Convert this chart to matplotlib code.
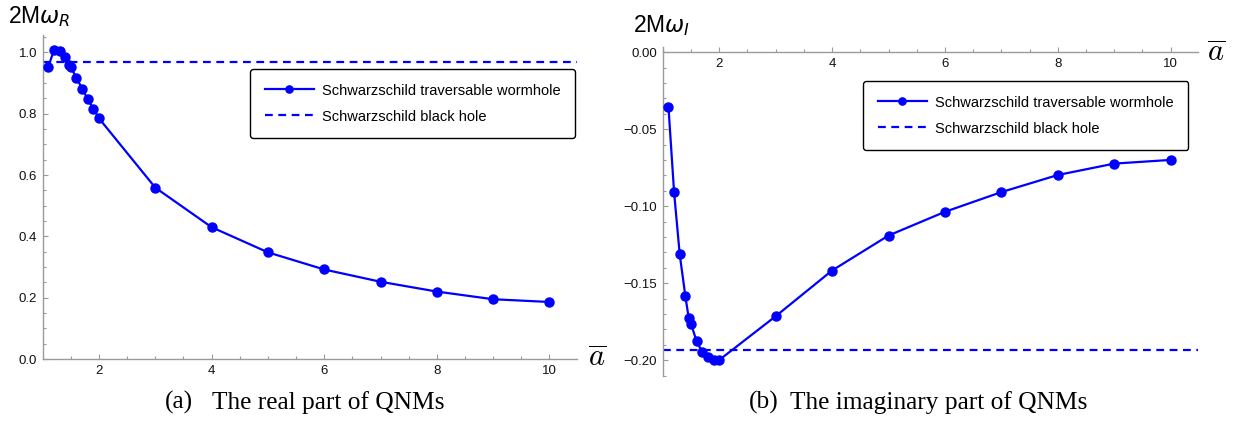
import matplotlib
matplotlib.use("Agg")
import matplotlib.pyplot as plt
from matplotlib.ticker import MultipleLocator

plt.rcParams['font.family'] = ['Liberation Sans', 'DejaVu Sans']

# wormhole parameter a-bar and the QNM frequencies
a_bar = [1.1, 1.2, 1.3, 1.4, 1.46, 1.5, 1.6, 1.7, 1.8, 1.9, 2, 3, 4, 5, 6, 7, 8, 9, 10]
omega_R = [0.953, 1.008, 1.005, 0.984, 0.959, 0.951, 0.917, 0.882, 0.848, 0.816,
           0.785, 0.559, 0.430, 0.348, 0.292, 0.252, 0.220, 0.195, 0.186]
omega_I = [-0.0353, -0.0909, -0.1313, -0.1584, -0.1727, -0.1764, -0.1877, -0.1947,
           -0.1981, -0.1995, -0.1998, -0.1714, -0.1417, -0.1190, -0.1036, -0.0908,
           -0.0797, -0.0723, -0.0699]
bh_R = 0.9673
bh_I = -0.1935

labels = ["Schwarzschild traversable wormhole", "Schwarzschild black hole"]
blue = (0, 0, 1)
axis_grey = "#9a9a9a"

W, H = 1236, 430
fig = plt.figure(figsize=(W / 100, H / 100), dpi=100)


def px_axes(x0, x1, ytop, ybot):
    return fig.add_axes([x0 / W, 1 - ybot / H, (x1 - x0) / W, (ybot - ytop) / H])


def style(ax, ymaj, ymin):
    for s in ["top", "right"]:
        ax.spines[s].set_visible(False)
    for s in ["left", "bottom"]:
        ax.spines[s].set_color(axis_grey)
        ax.spines[s].set_linewidth(1.0)
    ax.spines["bottom"].set_position(("data", 0))
    ax.xaxis.set_major_locator(MultipleLocator(2))
    ax.xaxis.set_minor_locator(MultipleLocator(0.5))
    ax.yaxis.set_major_locator(MultipleLocator(ymaj))
    ax.yaxis.set_minor_locator(MultipleLocator(ymin))
    ax.tick_params(which="both", direction="in", color=axis_grey, labelcolor="#111111",
                   labelsize=9.5, width=0.8)
    ax.tick_params(which="major", length=3.6, pad=4)
    ax.tick_params(which="minor", length=2.2)
    ax.set_xlim(1, 10.49)


def draw(ax, y, bh, loc):
    ax.plot(a_bar, y, "-o", color=blue, lw=1.6, ms=6.5, label=labels[0], zorder=3)
    ax.axhline(bh, color=blue, lw=1.6, ls=(0, (3.5, 2.5)), label=labels[1])
    leg = ax.legend(loc="upper left", bbox_to_anchor=loc, fontsize=10.5, frameon=True,
                    fancybox=True, edgecolor="black", framealpha=1, borderpad=1.0,
                    handlelength=3.4, handletextpad=0.55, labelspacing=0.82,
                    borderaxespad=0, markerscale=0.8)
    leg.get_frame().set_linewidth(1.0)


# (a) real part
ax1 = px_axes(42.7, 577, 35, 359)
draw(ax1, omega_R, bh_R, (0.388, 0.895))
style(ax1, 0.2, 0.05)
ax1.set_ylim(0, 1.057)
ax1.set_yticks([0.0, 0.2, 0.4, 0.6, 0.8, 1.0])
ax1.set_xticks([2, 4, 6, 8, 10])

# (b) imaginary part
ax2 = px_axes(662.8, 1198.3, 46.7, 375.7)
draw(ax2, omega_I, bh_I, (0.374, 0.8957))
style(ax2, 0.05, 0.01)
ax2.set_ylim(-0.21, 0.0036)
ax2.set_yticks([0.0, -0.05, -0.10, -0.15, -0.20])
ax2.set_yticklabels(["0.00", "\u22120.05", "\u22120.10", "\u22120.15", "\u22120.20"])
ax2.set_xticks([2, 4, 6, 8, 10])

# axis labels
fig.text(8 / W, 1 - 22.7 / H, r"2M$\omega_R$", fontsize=16.5, va="baseline")
fig.text(632.7 / W, 1 - 31.7 / H, r"2M$\omega_I$", fontsize=16.5, va="baseline")
fig.text(588 / W, 1 - 367 / H, r"$\overline{a}$", fontsize=22, va="baseline",
         math_fontfamily="cm")
fig.text(1207 / W, 1 - 61.7 / H, r"$\overline{a}$", fontsize=22, va="baseline",
         math_fontfamily="cm")

# captions
cap = dict(fontsize=18.3, va="baseline", family="Liberation Serif")
fig.text(165 / W, 1 - 409 / H, "(a)", **cap)
fig.text(211.7 / W, 1 - 409 / H, "The real part of QNMs", **cap)
fig.text(749.3 / W, 1 - 409 / H, "(b)", **cap)
fig.text(790 / W, 1 - 409 / H, "The imaginary part of QNMs", **cap)

fig.savefig("out.png", dpi=100)
